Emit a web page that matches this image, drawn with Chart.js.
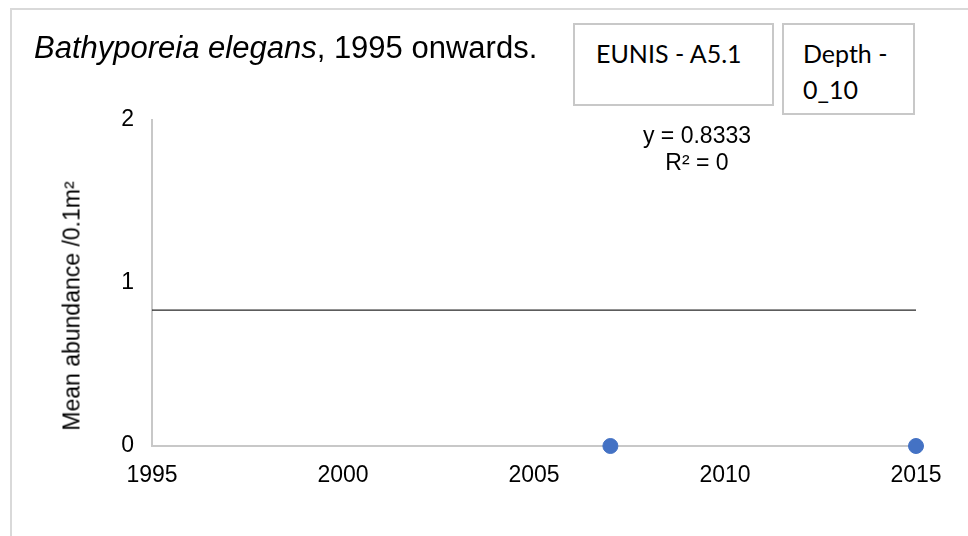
<!DOCTYPE html>
<html>
<head>
<meta charset="utf-8">
<script src="https://cdn.jsdelivr.net/npm/chart.js@4"></script>
<style>
  html, body { margin: 0; padding: 0; background: #fff; overflow: hidden; }
  #wrap { position: relative; width: 968px; height: 536px; overflow: hidden; }
  #frame { position: absolute; left: 10px; top: 8px; width: 1000px; height: 600px; border: 2px solid #d9d9d9; box-sizing: border-box; }
  canvas { position: absolute; left: 0; top: 0; }
  .txt { position: absolute; font-family: "Liberation Sans", Arial, sans-serif; color: #000; white-space: nowrap; }
  #title { left: 34px; top: 30px; font-size: 31px; line-height: 36px; }
  .box { position: absolute; border: 2px solid #c8c8c8; box-sizing: border-box; font-family: Lato, "Liberation Sans", sans-serif; font-size: 25px; line-height: 36px; background: #fff; white-space: nowrap; }
  #eunis { left: 573px; top: 23px; width: 201px; height: 83px; padding: 10px 0 0 21px; }
  #depth { left: 782px; top: 23px; width: 133px; height: 92px; padding: 10px 0 0 19px; }
  #trend { left: 597px; top: 122px; width: 200px; text-align: center; font-size: 23px; line-height: 27px; }
  #ytitle { left: 72px; top: 306px; font-size: 23px; transform: translate(-50%, -50%) rotate(-90deg); }
</style>
</head>
<body>
<div id="wrap">
  <div id="frame"></div>
  <canvas id="chart" width="968" height="536"></canvas>
  <div class="txt" id="title"><i>Bathyporeia elegans</i>, 1995 onwards.</div>
  <div class="box" id="eunis">EUNIS - A5.1</div>
  <div class="box" id="depth">Depth -<br>0_10</div>
  <div class="txt" id="trend">y = 0.8333<br>R² = 0</div>
  <div class="txt" id="ytitle">Mean abundance /0.1m²</div>
</div>
<script>
const years = [2007, 2015];
const abundance = [0, 0];
const trendYears = [1995, 2015];
const trendValues = [0.8333, 0.8333];
const xTicks = [1995, 2000, 2005, 2010, 2015];
const yTicks = [0, 1, 2];

const font = { family: '"Liberation Sans", Arial, sans-serif', size: 23 };

new Chart(document.getElementById('chart'), {
  type: 'scatter',
  data: {
    datasets: [
      {
        label: 'trend',
        data: trendYears.map((x, i) => ({ x: x, y: trendValues[i] })),
        showLine: true,
        borderColor: '#262626',
        borderWidth: 1.2,
        pointRadius: 0,
        clip: false
      },
      {
        label: 'Mean abundance',
        data: years.map((x, i) => ({ x: x, y: abundance[i] })),
        backgroundColor: '#4472c4',
        borderColor: '#4472c4',
        pointRadius: 7.5,
        clip: false
      }
    ]
  },
  options: {
    responsive: false,
    animation: false,
    layout: { padding: { left: 60, top: 120, right: 52, bottom: 0 } },
    plugins: { legend: { display: false }, tooltip: { enabled: false } },
    scales: {
      x: {
        type: 'linear',
        min: xTicks[0],
        max: xTicks[xTicks.length - 1],
        afterBuildTicks: s => { s.ticks = xTicks.map(v => ({ value: v })); },
        afterFit: s => { s.height = 90; },
        grid: { display: false, drawTicks: false },
        border: { display: true, color: '#c8c8c8', width: 2 },
        ticks: { color: '#000', font: font, padding: 16, maxRotation: 0, callback: v => String(v) }
      },
      y: {
        min: yTicks[0],
        max: yTicks[yTicks.length - 1],
        afterBuildTicks: s => { s.ticks = yTicks.map(v => ({ value: v })); },
        afterFit: s => { s.width = 92; },
        grid: { display: false, drawTicks: false },
        border: { display: true, color: '#c8c8c8', width: 2 },
        ticks: { color: '#000', font: font, padding: 18 }
      }
    }
  }
});
</script>
</body>
</html>
